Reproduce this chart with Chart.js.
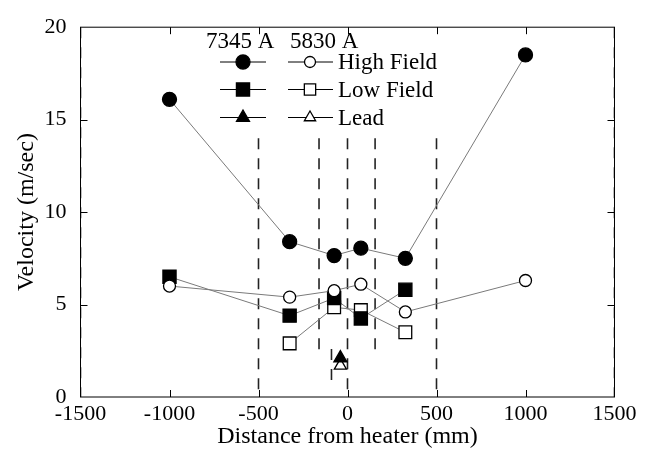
<!DOCTYPE html>
<html>
<head>
<meta charset="utf-8">
<script src="https://cdn.jsdelivr.net/npm/chart.js@4/dist/chart.umd.min.js"></script>
<style>
  html, body { margin: 0; padding: 0; background: #fff; }
  #wrap { width: 660px; height: 453px; }
</style>
</head>
<body>
<div id="wrap"><canvas id="myChart" width="660" height="453"></canvas></div>
<script>
const serif = "'Liberation Serif', 'Times New Roman', serif";

// High Field: 7345 A (filled) and 5830 A (open)
const distHigh = [-1000, -325, -75, 75, 325, 1000];
const high7345 = [16.1, 8.4, 7.65, 8.05, 7.5, 18.5];
const high5830 = [6.0, 5.4, 5.75, 6.1, 4.6, 6.3];

// Low Field
const distLow7345 = [-1000, -325, -75, 75, 325];
const low7345 = [6.5, 4.4, 5.35, 4.25, 5.8];
const distLow5830 = [-325, -75, 75, 325];
const low5830 = [2.9, 4.85, 4.7, 3.5];

// Lead
const distLead = [-40];
const lead7345 = [2.1];
const lead5830 = [1.7];

// dashed vertical guide lines
const guideX = [-1500, -500, -160, -90, 0, 155, 500, 1500];
const guideTop = [20, 14, 14, 2.6, 14, 14, 14, 20];
const guideBottom = [0, 0, 2.5, 0.9, 0, 2.5, 0, 0];

const xTicks = [-1500, -1000, -500, 0, 500, 1000, 1500];
const yTicks = [0, 5, 10, 15, 20];

function pts(xs, ys) {
    return xs.map((x, i) => ({x: x, y: ys[i]}));
}

function series(label, xs, ys, style, fill, radius) {
    return {
        label: label,
        data: pts(xs, ys),
        showLine: true,
        borderColor: '#7a7a7a',
        borderWidth: 1,
        pointStyle: style,
        pointRadius: radius,
        pointBackgroundColor: fill,
        pointBorderColor: '#000',
        pointBorderWidth: 1.3,
        order: 1
    };
}

let datasets = [
    series('7345 A High Field', distHigh, high7345, 'circle', '#000', 7),
    series('5830 A High Field', distHigh, high5830, 'circle', '#fff', 6),
    series('7345 A Low Field', distLow7345, low7345, 'rect', '#000', 9.3),
    series('5830 A Low Field', distLow5830, low5830, 'rect', '#fff', 9),
    series('7345 A Lead', distLead, lead7345, 'triangle', '#000', 7.5),
    series('5830 A Lead', distLead, lead5830, 'triangle', '#fff', 7)
];

guideX.forEach((gx, i) => {
    datasets.push({
        label: 'guide',
        data: [{x: gx, y: guideTop[i]}, {x: gx, y: guideBottom[i]}],
        showLine: true,
        borderColor: '#222',
        borderWidth: 1.6,
        borderDash: [11, 9],
        pointRadius: 0,
        order: 5
    });
});

// frame, inward ticks and the two-column key
const framePlugin = {
    id: 'frame',
    afterDraw(chart) {
        const ctx = chart.ctx;
        const a = chart.chartArea;
        const xs = chart.scales.x, ys = chart.scales.y;
        ctx.save();
        ctx.strokeStyle = '#000';
        ctx.lineWidth = 1;
        ctx.strokeRect(a.left, a.top, a.right - a.left, a.bottom - a.top);
        ctx.beginPath();
        xTicks.slice(1, -1).forEach(v => {
            const px = Math.round(xs.getPixelForValue(v)) + 0.5;
            ctx.moveTo(px, a.bottom); ctx.lineTo(px, a.bottom - 7);
            ctx.moveTo(px, a.top); ctx.lineTo(px, a.top + 7);
        });
        yTicks.slice(1, -1).forEach(v => {
            const py = Math.round(ys.getPixelForValue(v)) + 0.5;
            ctx.moveTo(a.left, py); ctx.lineTo(a.left + 7, py);
            ctx.moveTo(a.right, py); ctx.lineTo(a.right - 7, py);
        });
        ctx.stroke();

        // key
        ctx.fillStyle = '#000';
        ctx.font = '23px ' + serif;
        ctx.textAlign = 'left';
        ctx.textBaseline = 'alphabetic';
        ctx.fillText('7345 A', 206, 48);
        ctx.fillText('5830 A', 290, 48);
        const rows = [
            {y: 62, text: 'High Field', style: 'circle', r: [7, 5.5]},
            {y: 89.5, text: 'Low Field', style: 'rect', r: [9.3, 8]},
            {y: 117.5, text: 'Lead', style: 'triangle', r: [7.5, 6.5]}
        ];
        const draw = Chart.helpers && Chart.helpers.drawPoint;
        rows.forEach(row => {
            ctx.strokeStyle = '#000';
            ctx.lineWidth = 1;
            ctx.beginPath();
            ctx.moveTo(220, row.y); ctx.lineTo(266, row.y);
            ctx.moveTo(288, row.y); ctx.lineTo(333, row.y);
            ctx.stroke();
            [[243, '#000', row.r[0]], [310, '#fff', row.r[1]]].forEach(m => {
                ctx.fillStyle = m[1];
                ctx.strokeStyle = '#000';
                ctx.lineWidth = 1.3;
                if (draw) {
                    draw(ctx, {pointStyle: row.style, radius: m[2], borderWidth: 1.3, rotation: 0}, m[0], row.y);
                }
            });
            ctx.fillStyle = '#000';
            ctx.fillText(row.text, 338, row.y + 7);
        });
        ctx.restore();
    }
};

let canvas = document.querySelector('#myChart');
let ctx = canvas.getContext('2d');
let myChart = new Chart(ctx, {
    type: 'scatter',
    data: {datasets: datasets},
    options: {
        responsive: false,
        animation: false,
        events: [],
        layout: {padding: {left: 0, right: 45.5, top: 17, bottom: 0}},
        plugins: {legend: {display: false}, tooltip: {enabled: false}},
        scales: {
            x: {
                type: 'linear',
                min: -1500,
                max: 1500,
                afterBuildTicks: s => { s.ticks = xTicks.map(v => ({value: v})); },
                ticks: {
                    color: '#000', font: {family: serif, size: 22}, padding: 4,
                    maxRotation: 0, autoSkip: false,
                    callback: v => String(v)
                },
                grid: {display: false, drawTicks: false},
                border: {display: false},
                title: {
                    display: true,
                    text: 'Distance from heater (mm)',
                    color: '#000',
                    font: {family: serif, size: 24, lineHeight: 1.2},
                    padding: {top: 0, bottom: 2}
                },
                afterFit: s => { s.height = 56; }
            },
            y: {
                type: 'linear',
                min: 0,
                max: 20,
                afterBuildTicks: s => { s.ticks = yTicks.map(v => ({value: v})); },
                ticks: {
                    color: '#000', font: {family: serif, size: 22}, padding: 14,
                    callback: v => String(v)
                },
                grid: {display: false, drawTicks: false},
                border: {display: false},
                title: {
                    display: true,
                    text: 'Velocity (m/sec)',
                    color: '#000',
                    font: {family: serif, size: 24, lineHeight: 1.2},
                    padding: {top: 12, bottom: 0}
                },
                afterFit: s => { s.width = 80.5; }
            }
        }
    },
    plugins: [framePlugin]
});
</script>
</body>
</html>
